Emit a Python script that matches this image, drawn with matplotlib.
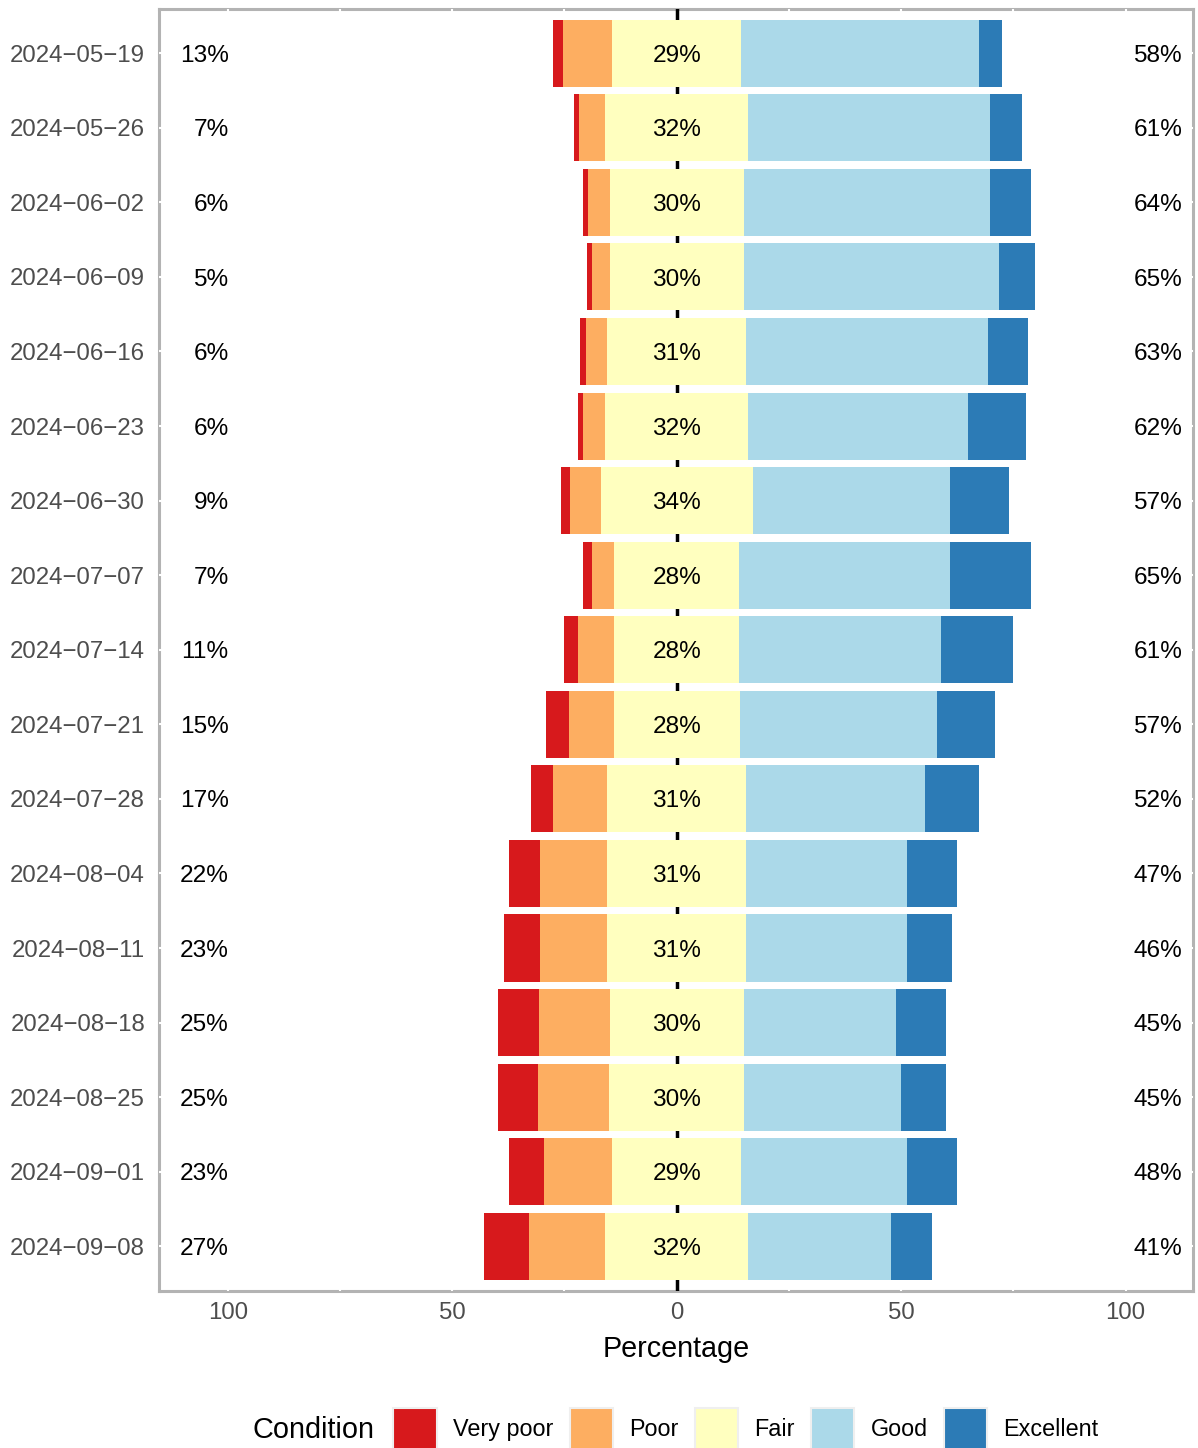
import numpy as np
import matplotlib
matplotlib.use("Agg")
import matplotlib.pyplot as plt
import matplotlib.patches as mpatches

plt.rcParams['font.family'] = ['Liberation Sans', 'DejaVu Sans']

# weekly survey shares (percent)
weeks = ["2024-05-19", "2024-05-26", "2024-06-02", "2024-06-09", "2024-06-16",
         "2024-06-23", "2024-06-30", "2024-07-07", "2024-07-14", "2024-07-21",
         "2024-07-28", "2024-08-04", "2024-08-11", "2024-08-18", "2024-08-25",
         "2024-09-01", "2024-09-08"]
very_poor = [2.1, 1.1, 1.1, 1.1, 1.2, 1.1, 2.0, 2.0, 3.1, 5.2, 5.1, 7.0, 8.0, 9.1, 9.1, 8.0, 10.0]
poor = [11.0, 5.9, 4.9, 4.0, 4.8, 5.0, 6.9, 5.0, 8.0, 10.0, 12.0, 14.9, 14.9, 15.8, 15.8, 15.1, 17.0]
fair = [28.7, 31.8, 29.8, 29.8, 30.9, 31.8, 33.8, 27.8, 27.8, 28.0, 30.9, 30.9, 30.9, 29.8, 30.0, 28.7, 31.8]
good = [53.0, 53.9, 54.9, 56.9, 53.8, 48.9, 44.0, 47.0, 45.0, 43.9, 39.8, 35.8, 35.8, 34.0, 35.0, 36.9, 31.9]
excellent = [5.0, 7.1, 9.1, 8.0, 9.1, 13.1, 13.1, 18.0, 16.0, 13.1, 12.0, 11.2, 10.0, 11.1, 10.0, 11.2, 9.1]

conditions = ["Very poor", "Poor", "Fair", "Good", "Excellent"]
colors = ["#D7191C", "#FDAE61", "#FFFFBF", "#ABD9E9", "#2C7BB6"]

vp = np.array(very_poor)
pr = np.array(poor)
fa = np.array(fair)
gd = np.array(good)
ex = np.array(excellent)
y = np.arange(len(weeks))

fig = plt.figure(figsize=(11.98, 14.48), dpi=100)
ax = fig.add_axes([159 / 1198, 1 - 1291 / 1448, 1034 / 1198, 1282.5 / 1448])

# white grid lines (drawn over the border, under the bars)
for gx in [-100, -75, -50, -25, 0, 25, 50, 75, 100]:
    ax.axvline(gx, color="white", lw=1.5, zorder=1)
for gy in y:
    ax.axhline(gy, color="white", lw=1.5, zorder=1)
ax.axvline(0, color="black", lw=2.5, zorder=1.5)

h = 0.9
# negative side
ax.barh(y, -fa / 2, height=h, color=colors[2], zorder=2)
ax.barh(y, -pr, left=-fa / 2, height=h, color=colors[1], zorder=2)
ax.barh(y, -vp, left=-fa / 2 - pr, height=h, color=colors[0], zorder=2)
# positive side
ax.barh(y, fa / 2, height=h, color=colors[2], zorder=2)
ax.barh(y, gd, left=fa / 2, height=h, color=colors[3], zorder=2)
ax.barh(y, ex, left=fa / 2 + gd, height=h, color=colors[4], zorder=2)

dy = 0.035
for i in range(len(weeks)):
    ax.text(0, y[i] + dy, f"{round(fa[i])}%", ha="center", va="center", fontsize=17.6, zorder=3)
    ax.text(-99.8, y[i] + dy, f"{round(vp[i] + pr[i])}%", ha="right", va="center", fontsize=17.6, zorder=3)
    ax.text(101.7, y[i] + dy, f"{round(gd[i] + ex[i])}%", ha="left", va="center", fontsize=17.6, zorder=3)

ax.set_xlim(-115.3, 115.0)
ax.set_ylim(len(weeks) - 0.4, -0.6)
ax.set_xticks([-100, -50, 0, 50, 100])
ax.set_xticklabels(["100", "50", "0", "50", "100"])
ax.set_yticks(y)
ax.set_yticklabels([w.replace("-", "\u2212") for w in weeks])
ax.tick_params(axis="both", length=0, labelsize=17.3, labelcolor="#4D4D4D")
ax.tick_params(axis="x", pad=8)
ax.tick_params(axis="y", pad=10)
ax.set_xlabel("Percentage", fontsize=20.7, labelpad=8)

for sp in ax.spines.values():
    sp.set_color("#B3B3B3")
    sp.set_linewidth(2.2)
    sp.set_zorder(0.5)

handles = [mpatches.Patch(facecolor=c, edgecolor="#EFEFEF", lw=1.5) for c in colors]
fig.legend(handles, conditions, loc="center", bbox_to_anchor=(746 / 1198, 1 - 1429 / 1448),
           ncol=5, frameon=False, fontsize=16.8, handlelength=1.85, handleheight=2.4,
           handletextpad=0.7, columnspacing=0.7, borderaxespad=0, borderpad=0)
fig.text(253 / 1198, 1 - 1430 / 1448, "Condition", ha="left", va="center", fontsize=20.8)

fig.savefig("out.png", dpi=100)
